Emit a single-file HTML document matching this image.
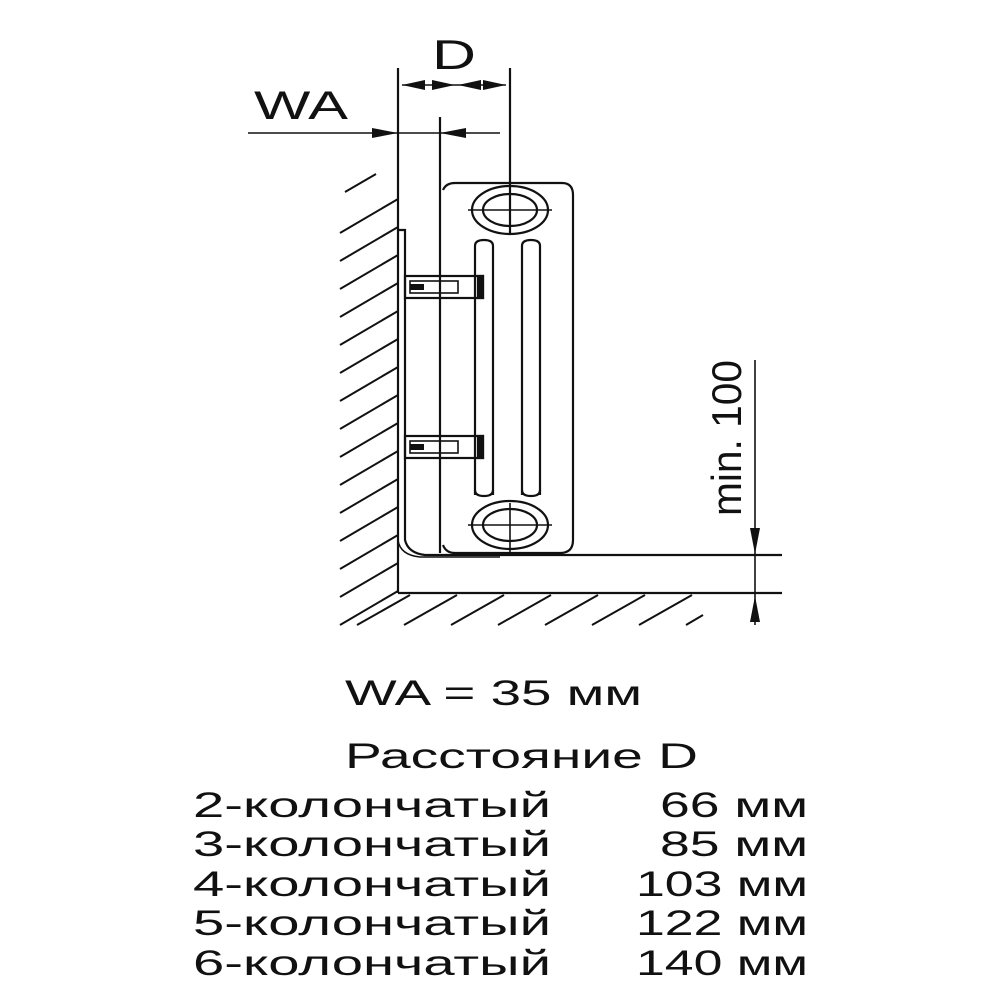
<!DOCTYPE html>
<html><head><meta charset="utf-8"><style>
html,body{margin:0;padding:0;background:#fff;}
svg{display:block;}
text{font-family:"Liberation Sans",sans-serif;fill:#111;}
</style></head><body>
<svg width="1000" height="1000" viewBox="0 0 1000 1000" xmlns="http://www.w3.org/2000/svg">
<g stroke="#111" fill="none" stroke-width="2.2">
  <g stroke-width="2">
    <line x1="345" y1="192" x2="376" y2="174"/>
    <line x1="340" y1="233" x2="398" y2="199"/>
    <line x1="340" y1="261" x2="398" y2="227"/>
    <line x1="340" y1="289" x2="398" y2="255"/>
    <line x1="340" y1="317" x2="398" y2="283"/>
    <line x1="340" y1="345" x2="398" y2="311"/>
    <line x1="340" y1="373" x2="398" y2="339"/>
    <line x1="340" y1="401" x2="398" y2="367"/>
    <line x1="340" y1="429" x2="398" y2="395"/>
    <line x1="340" y1="457" x2="398" y2="423"/>
    <line x1="340" y1="485" x2="398" y2="451"/>
    <line x1="340" y1="513" x2="398" y2="479"/>
    <line x1="340" y1="541" x2="398" y2="507"/>
    <line x1="340" y1="569" x2="398" y2="535"/>
    <line x1="340" y1="597" x2="398" y2="563"/>
    <line x1="340" y1="625" x2="398" y2="591"/>
    <line x1="357" y1="625" x2="410" y2="595"/>
    <line x1="404" y1="625" x2="457" y2="595"/>
    <line x1="451" y1="625" x2="504" y2="595"/>
    <line x1="498" y1="625" x2="551" y2="595"/>
    <line x1="545" y1="625" x2="598" y2="595"/>
    <line x1="592" y1="625" x2="645" y2="595"/>
    <line x1="639" y1="625" x2="692" y2="595"/>
    <line x1="686" y1="625" x2="703" y2="615"/>
  </g>
  <line x1="398" y1="68" x2="398" y2="593"/>
  <line x1="398" y1="593" x2="782" y2="593"/>
  <line x1="520" y1="555" x2="782" y2="555"/>
  <line x1="510" y1="68" x2="510" y2="235"/>
  <line x1="440" y1="117" x2="440" y2="553"/>
  <path d="M398 230 H405 V540 Q408 553 425 555 H520"/>
  <path d="M398 540 Q400 555 420 557 H500" stroke-width="1.5"/>
  <path d="M443 190 Q446 183 455 183 H562 Q573 183 573 195 V540 Q573 553 560 553 H455 Q446 553 443 545"/>
  <path d="M475 495 V246 Q475 240 484 240 Q493 240 493 246 V495"/>
  <path d="M522 495 V246 Q522 240 531 240 Q540 240 540 246 V495"/>
  <path d="M475 490 Q475 496 484 496 Q493 496 493 490"/>
  <path d="M522 490 Q522 496 531 496 Q540 496 540 490"/>
  <ellipse cx="510" cy="210" rx="38" ry="24"/>
  <ellipse cx="510" cy="210" rx="27" ry="16"/>
  <line x1="468" y1="210" x2="552" y2="210" stroke-width="1.6"/>
  <ellipse cx="510" cy="525" rx="38" ry="24"/>
  <ellipse cx="510" cy="525" rx="27" ry="16"/>
  <line x1="468" y1="525" x2="552" y2="525" stroke-width="1.6"/>
  <line x1="510" y1="503" x2="510" y2="555" stroke-width="1.6"/>
  <rect x="405" y="276" width="78" height="22"/>
  <rect x="410" y="281" width="48" height="12" stroke-width="1.6"/>
  <rect x="478" y="276" width="5" height="22" fill="#111"/>
  <rect x="410" y="284" width="14" height="6" fill="#111" stroke="none"/>
  <rect x="405" y="436" width="78" height="22"/>
  <rect x="410" y="441" width="48" height="12" stroke-width="1.6"/>
  <rect x="478" y="436" width="5" height="22" fill="#111"/>
  <rect x="410" y="444" width="14" height="6" fill="#111" stroke="none"/>
  <line x1="402" y1="85" x2="506" y2="85" stroke-width="1.6"/>
  <line x1="248" y1="133" x2="500" y2="133" stroke-width="1.6"/>
  <line x1="755" y1="360" x2="755" y2="625" stroke-width="1.6"/>
</g>
<g fill="#111">
  <polygon points="402,85 425,80 425,90"/>
  <polygon points="455,85 432,80 432,90"/>
  <polygon points="458,85 481,80 481,90"/>
  <polygon points="506,85 483,80 483,90"/>
  <polygon points="398,133 372,128 372,138"/>
  <polygon points="440,133 466,128 466,138"/>
  <polygon points="755,554 750,528 760,528"/>
  <polygon points="755,596 750,622 760,622"/>
</g>
<text x="254" y="119" font-size="40" textLength="94" lengthAdjust="spacingAndGlyphs">WA</text>
<text x="432" y="69" font-size="42" textLength="44" lengthAdjust="spacingAndGlyphs">D</text>
<text transform="translate(741,516) rotate(-90)" font-size="42" textLength="156" lengthAdjust="spacingAndGlyphs">min. 100</text>
<g font-size="35">
<text x="345" y="705" textLength="297" lengthAdjust="spacingAndGlyphs">WA = 35 мм</text>
<text x="345" y="768" textLength="353" lengthAdjust="spacingAndGlyphs">Расстояние D</text>
<text x="193" y="817" textLength="358" lengthAdjust="spacingAndGlyphs">2-колончатый</text>
<text x="193" y="856" textLength="358" lengthAdjust="spacingAndGlyphs">3-колончатый</text>
<text x="193" y="896" textLength="358" lengthAdjust="spacingAndGlyphs">4-колончатый</text>
<text x="193" y="935" textLength="358" lengthAdjust="spacingAndGlyphs">5-колончатый</text>
<text x="193" y="975" textLength="358" lengthAdjust="spacingAndGlyphs">6-колончатый</text>
<text x="660" y="817" textLength="148" lengthAdjust="spacingAndGlyphs">66 мм</text>
<text x="660" y="856" textLength="148" lengthAdjust="spacingAndGlyphs">85 мм</text>
<text x="636" y="896" textLength="172" lengthAdjust="spacingAndGlyphs">103 мм</text>
<text x="636" y="935" textLength="172" lengthAdjust="spacingAndGlyphs">122 мм</text>
<text x="636" y="975" textLength="172" lengthAdjust="spacingAndGlyphs">140 мм</text>
</g>
</svg>
</body></html>
